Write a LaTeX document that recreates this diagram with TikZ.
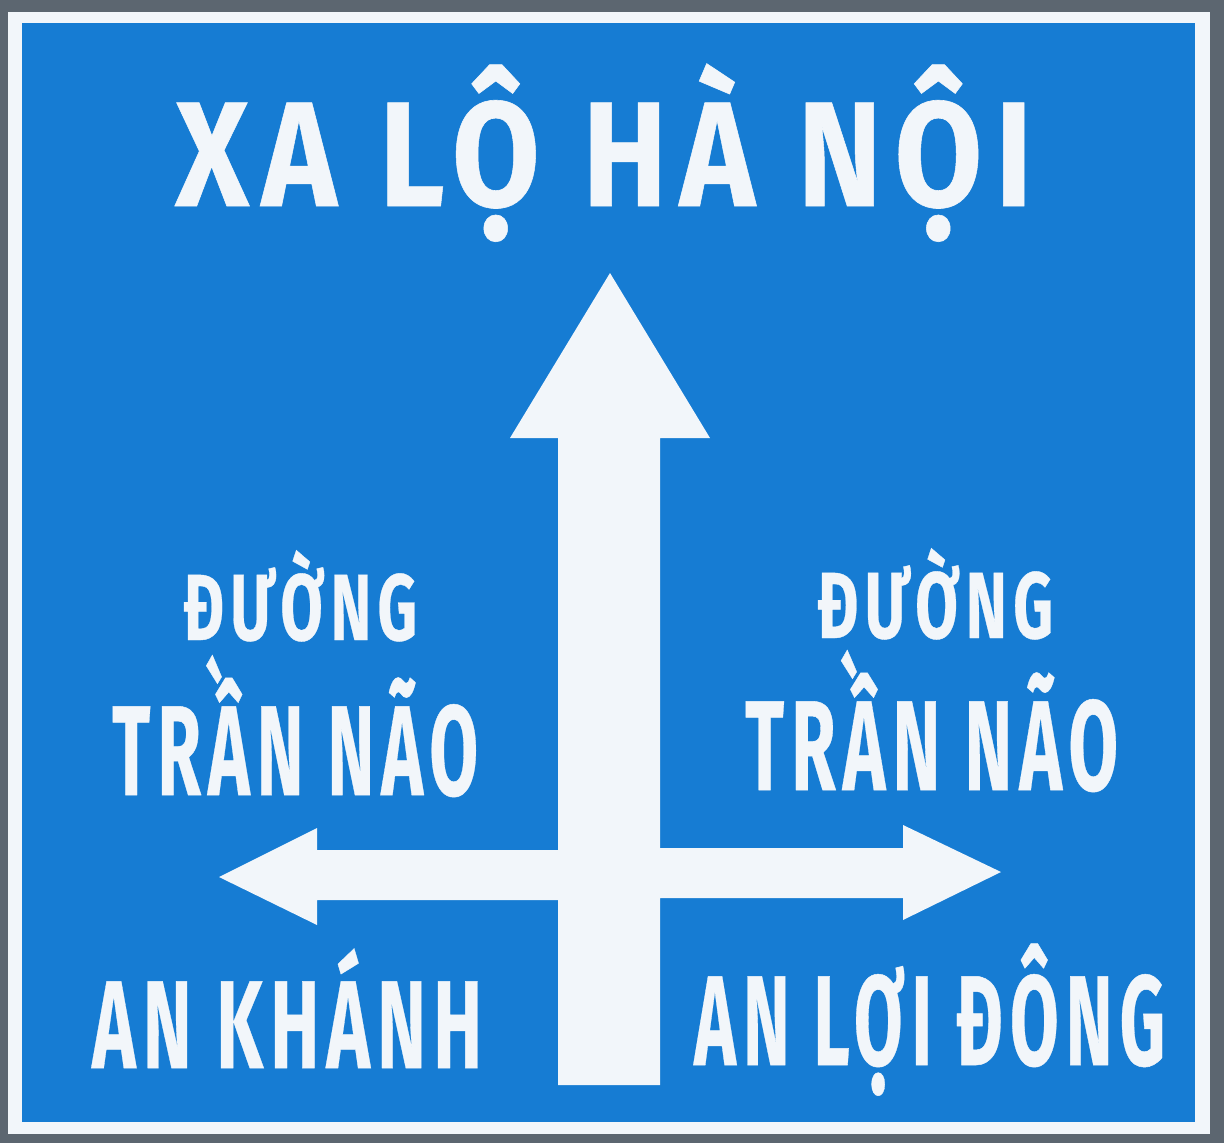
\documentclass[tikz,border=0pt]{standalone}
\usepackage{fontspec}
\usepackage{graphicx}
\usepackage{xcolor}
\newfontfamily\signfont{Fira Sans}[BoldFeatures={FakeBold=0.4},LetterSpace=10]
\definecolor{signblue}{RGB}{22,124,211}
\definecolor{signwhite}{RGB}{242,246,250}
\definecolor{edgegray}{RGB}{92,102,112}
\newcommand{\signline}[3]{\resizebox{#1}{\height}{\fontsize{#2}{#2}\selectfont\signfont\bfseries #3}}

\begin{document}
\begin{tikzpicture}[x=1pt,y=-1pt,
  signtext/.style={text=signwhite,inner sep=0pt,anchor=base west}]
\useasboundingbox (0,0) rectangle (1224,1143);
% plate
\fill[edgegray] (0,0) rectangle (1224,1143);
\fill[signwhite] (8,12) rectangle (1210,1134);
\fill[signblue] (22,23) rectangle (1195,1122);
% arrows
\fill[signwhite] (610,273) -- (710,438) -- (660,438) -- (660,848) -- (903,848)
  -- (903,825) -- (1001,872) -- (903,920) -- (903,898) -- (660,898)
  -- (660,1085) -- (558,1085) -- (558,900) -- (317,900) -- (317,925)
  -- (219,877) -- (317,828) -- (317,850) -- (558,850) -- (558,438)
  -- (510,438) -- cycle;
% texts
\node (title) at (175,206) [signtext] {\signline{857pt}{149pt}{XA LỘ HÀ NỘI}};
\node (leftstreet) at (183,640) [signtext] {\signline{234pt}{94pt}{ĐƯỜNG}};
\node (leftname) at (112,795) [signtext] {\signline{366pt}{128pt}{TRẦN NÃO}};
\node (rightstreet) at (817,638) [signtext] {\signline{236pt}{94pt}{ĐƯỜNG}};
\node (rightname) at (745,790) [signtext] {\signline{373pt}{128pt}{TRẦN NÃO}};
\node (leftplace) at (92,1068) [signtext] {\signline{390pt}{125pt}{AN KHÁNH}};
\node (rightplace) at (694,1065) [signtext] {\signline{471pt}{128pt}{AN LỢI ĐÔNG}};
\end{tikzpicture}
\end{document}
